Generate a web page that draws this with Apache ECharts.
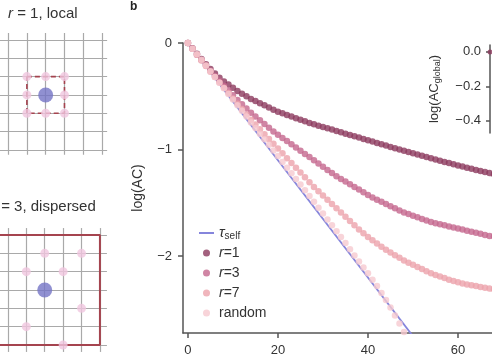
<!DOCTYPE html>
<html><head><meta charset="utf-8">
<script src="https://cdn.jsdelivr.net/npm/echarts@6/dist/echarts.min.js"></script>
<style>html,body{margin:0;padding:0;background:#fff}#c{width:492px;height:358px}</style>
</head><body><div id="c"></div>
<script>
// ---- main panel data (lag = array index) ----
const r1 = [0,-0.05,-0.10,-0.15,-0.20,-0.245,-0.285,-0.325,-0.36,-0.39,-0.42,-0.45,-0.475,-0.50,-0.525,-0.545,-0.565,-0.585,-0.605,-0.625,-0.645,-0.66,-0.675,-0.69,-0.705,-0.72,-0.735,-0.75,-0.762,-0.775,-0.787,-0.80,-0.812,-0.825,-0.837,-0.85,-0.862,-0.875,-0.887,-0.90,-0.912,-0.925,-0.937,-0.95,-0.962,-0.975,-0.987,-1.00,-1.01,-1.022,-1.034,-1.046,-1.058,-1.07,-1.08,-1.092,-1.104,-1.115,-1.126,-1.137,-1.148,-1.159,-1.17,-1.18,-1.19,-1.20,-1.21,-1.22,-1.23,-1.24,-1.25];
const r3 = [0,-0.055,-0.11,-0.16,-0.21,-0.26,-0.31,-0.355,-0.40,-0.445,-0.49,-0.535,-0.575,-0.615,-0.655,-0.69,-0.725,-0.76,-0.795,-0.83,-0.86,-0.89,-0.92,-0.95,-0.98,-1.01,-1.04,-1.07,-1.10,-1.13,-1.16,-1.19,-1.22,-1.25,-1.275,-1.30,-1.325,-1.35,-1.375,-1.40,-1.425,-1.45,-1.47,-1.49,-1.51,-1.53,-1.55,-1.57,-1.59,-1.605,-1.62,-1.635,-1.65,-1.665,-1.68,-1.69,-1.70,-1.71,-1.72,-1.73,-1.74,-1.75,-1.76,-1.77,-1.78,-1.79,-1.80,-1.81,-1.815,-1.82,-1.825];
const r7 = [0,-0.055,-0.11,-0.165,-0.215,-0.27,-0.32,-0.37,-0.42,-0.47,-0.52,-0.57,-0.62,-0.67,-0.72,-0.765,-0.81,-0.855,-0.90,-0.945,-0.99,-1.035,-1.08,-1.125,-1.17,-1.215,-1.26,-1.305,-1.35,-1.39,-1.43,-1.47,-1.51,-1.55,-1.59,-1.63,-1.67,-1.71,-1.75,-1.785,-1.82,-1.85,-1.88,-1.91,-1.94,-1.965,-1.99,-2.015,-2.04,-2.06,-2.08,-2.10,-2.12,-2.14,-2.16,-2.175,-2.19,-2.205,-2.22,-2.232,-2.245,-2.255,-2.265,-2.273,-2.28,-2.288,-2.295,-2.303,-2.31,-2.315,-2.32];
const randomAC = [0,-0.053,-0.105,-0.158,-0.21,-0.265,-0.32,-0.372,-0.425,-0.478,-0.53,-0.583,-0.635,-0.69,-0.745,-0.797,-0.85,-0.903,-0.955,-1.008,-1.06,-1.115,-1.17,-1.222,-1.275,-1.328,-1.38,-1.435,-1.49,-1.545,-1.60,-1.655,-1.71,-1.765,-1.82,-1.877,-1.935,-1.992,-2.05,-2.105,-2.16,-2.22,-2.28,-2.345,-2.41,-2.48,-2.555,-2.63,-2.71];
const tauSelf = [[0,0],[50,-2.75]];
const xTicks = [0,20,40,60];
const yTicks = [0,-1,-2];
// inset
const insetR1 = [0.0];
const insetTicks = [0,-0.2,-0.4];
// ---- left diagrams (lattice coordinates: column, row) ----
const gridCols = [0,1,2,3,4,5];
const gridRows = [0,1,2,3,4,5,6];
const localNeighbors = [[1,2],[2,2],[3,2],[1,3],[3,3],[1,4],[2,4],[3,4]];
const localCenter = [[2,3]];
const localBox = [[1,2],[3,2],[3,4],[1,4],[1,2]];
const dispNeighbors = [[2,1],[4,1],[1,2],[3,2],[4,4],[1,5],[3,6]];
const dispCenter = [[2,3]];
const dispBox = [[-1,0],[5,0],[5,6],[-1,6]];

const FONT = "'Liberation Sans', Arial, Helvetica, sans-serif";
const C = {r1:'#8c3a5e', r3:'#c4678d', r7:'#eca3ab', rnd:'#f6c9d0', tau:'#8585dc',
           pink:'#f0c6de', blue:'#7474c6', gray:'#a9a9a9', red:'#a5444f'};
const minus = '\u2212';

function latticeLines(vExt, hExt){
  const out = [];
  gridCols.forEach(c => out.push({coords:[[c,vExt[0]],[c,vExt[1]]]}));
  gridRows.forEach(r => out.push({coords:[[hExt[0],r],[hExt[1],r]]}));
  return out;
}
const hiddenAxis = (gi, min, max, inverse) => ({gridIndex: gi, type:'value', min, max, inverse: !!inverse, show:false});

const chart = echarts.init(document.getElementById('c'));
chart.setOption({
  animation:false,
  backgroundColor:'#fff',
  textStyle:{fontFamily:FONT},
  title:[
    {text:'{i|r} = 1, local', left:8, top:6, padding:0,
     textStyle:{fontSize:15, fontWeight:'normal', color:'#333', fontFamily:FONT,
       rich:{i:{fontStyle:'italic', fontSize:15, color:'#333', fontFamily:FONT}}}},
    {text:'{i|r} = 3, dispersed', left:-8, top:199, padding:0,
     textStyle:{fontSize:15, fontWeight:'normal', color:'#333', fontFamily:FONT,
       rich:{i:{fontStyle:'italic', fontSize:15, color:'#333', fontFamily:FONT}}}},
    {text:'b', left:130, top:1, padding:0,
     textStyle:{fontSize:12, fontWeight:'bold', color:'#222', fontFamily:FONT}}
  ],
  grid:[
    {left:183, top:43, width:365, height:290, outerBoundsMode:'none'},
    {left:0, top:33, width:107.7, height:122.4, outerBoundsMode:'none'},
    {left:0, top:227.7, width:107.3, height:124.6, outerBoundsMode:'none'},
    {left:490, top:45, width:240, height:88, outerBoundsMode:'none'}
  ],
  xAxis:[
    {gridIndex:0, type:'value', min:-1.1, max:80,
     axisLine:{onZero:false, lineStyle:{color:'#555', width:1.5}},
     axisTick:{customValues:xTicks, length:5, lineStyle:{color:'#555', width:1.5}},
     axisLabel:{customValues:xTicks, margin:11, fontSize:13, color:'#333', fontFamily:FONT},
     splitLine:{show:false}},
    hiddenAxis(1,-0.43,5.3),
    hiddenAxis(2,-0.43,5.4),
    {gridIndex:3, type:'value', min:0, max:60, show:false, axisLine:{onZero:false}}
  ],
  yAxis:[
    {gridIndex:0, type:'value', min:-2.72, max:0,
     name:'log(AC)', nameLocation:'middle', nameGap:38,
     nameTextStyle:{fontSize:14, color:'#333', fontFamily:FONT},
     axisLine:{onZero:false, lineStyle:{color:'#555', width:1.5}},
     axisTick:{customValues:yTicks, length:5, lineStyle:{color:'#555', width:1.5}},
     axisLabel:{customValues:yTicks, margin:11, fontSize:13, color:'#333', fontFamily:FONT,
       formatter:v => v===0 ? '0' : minus + Math.abs(v)},
     splitLine:{show:false}},
    hiddenAxis(1,-0.38,6.3,true),
    hiddenAxis(2,-0.4,6.4,true),
    {gridIndex:3, type:'value', min:-0.47, max:0.04,
     name:'{a|log(AC}{s|global}{a|)}', nameLocation:'middle', nameGap:48,
     nameTextStyle:{fontSize:13, color:'#333', fontFamily:FONT,
       rich:{a:{fontSize:13, color:'#333', fontFamily:FONT, lineHeight:16},
             s:{fontSize:9, color:'#333', fontFamily:FONT, verticalAlign:'bottom', lineHeight:10}}},
     axisLine:{onZero:false, lineStyle:{color:'#555', width:1.5}},
     axisTick:{customValues:insetTicks, length:4, lineStyle:{color:'#555', width:1.5}},
     axisLabel:{customValues:insetTicks, margin:9, fontSize:13, color:'#333', fontFamily:FONT,
       formatter:v => v===0 ? '0.0' : minus + Math.abs(v).toFixed(1)},
     splitLine:{show:false}}
  ],
  legend:{
    orient:'vertical', left:193, top:220, itemWidth:15, itemHeight:7, itemGap:4,
    padding:5,
    data:[{name:'tau', itemStyle:{opacity:0}},{name:'r1',icon:'circle'},{name:'r3',icon:'circle'},{name:'r7',icon:'circle'},{name:'random',icon:'circle'}],
    formatter: n => ({tau:'{t|τ}{s|self}', r1:'{i|r}{n|=1}', r3:'{i|r}{n|=3}', r7:'{i|r}{n|=7}', random:'{n|random}'})[n],
    textStyle:{fontSize:14, color:'#333', fontFamily:FONT, lineHeight:16,
      rich:{t:{fontSize:15, fontStyle:'italic', color:'#333', fontFamily:FONT, lineHeight:16},
            s:{fontSize:10, color:'#333', fontFamily:FONT, verticalAlign:'bottom', lineHeight:11},
            i:{fontSize:14, fontStyle:'italic', color:'#333', fontFamily:FONT, lineHeight:16},
            n:{fontSize:14, color:'#333', fontFamily:FONT, lineHeight:16}}}
  },
  series:[
    {name:'tau', type:'line', xAxisIndex:0, yAxisIndex:0, data:tauSelf, symbol:'none',
     lineStyle:{color:C.tau, width:1.8}, itemStyle:{color:C.tau}, z:2},
    {name:'r1', type:'scatter', xAxisIndex:0, yAxisIndex:0, data:r1.map((v,i)=>[i,v]),
     symbolSize:6.5, itemStyle:{color:C.r1}, z:3},
    {name:'r3', type:'scatter', xAxisIndex:0, yAxisIndex:0, data:r3.map((v,i)=>[i,v]),
     symbolSize:6.5, itemStyle:{color:C.r3}, z:3},
    {name:'r7', type:'scatter', xAxisIndex:0, yAxisIndex:0, data:r7.map((v,i)=>[i,v]),
     symbolSize:6.5, itemStyle:{color:C.r7}, z:3},
    {name:'random', type:'scatter', xAxisIndex:0, yAxisIndex:0, data:randomAC.map((v,i)=>[i,v]),
     symbolSize:6.5, itemStyle:{color:C.rnd}, z:3},
    {name:'insetR1', type:'scatter', xAxisIndex:3, yAxisIndex:3, data:insetR1.map((v,i)=>[i,v]),
     symbolSize:5, itemStyle:{color:C.r1}, clip:false, z:4},
    // top diagram
    {type:'lines', coordinateSystem:'cartesian2d', xAxisIndex:1, yAxisIndex:1,
     data:latticeLines([-0.38,6.27],[-0.43,5.27]), lineStyle:{color:C.gray, width:1.2, opacity:1}, z:1},
    {type:'line', xAxisIndex:1, yAxisIndex:1, data:localBox, symbol:'none',
     lineStyle:{color:C.red, width:1.6, type:[5,3]}, z:2},
    {type:'scatter', xAxisIndex:1, yAxisIndex:1, data:localNeighbors, symbolSize:9,
     itemStyle:{color:C.pink}, z:3},
    {type:'scatter', xAxisIndex:1, yAxisIndex:1, data:localCenter, symbolSize:15,
     itemStyle:{color:C.blue}, z:4},
    // bottom diagram
    {type:'lines', coordinateSystem:'cartesian2d', xAxisIndex:2, yAxisIndex:2,
     data:latticeLines([-0.38,6.38],[-0.43,5.38]), lineStyle:{color:C.gray, width:1.2, opacity:1}, z:1},
    {type:'line', xAxisIndex:2, yAxisIndex:2, data:dispBox, symbol:'none', clip:false,
     lineStyle:{color:C.red, width:2}, z:2},
    {type:'scatter', xAxisIndex:2, yAxisIndex:2, data:dispNeighbors, symbolSize:9,
     itemStyle:{color:C.pink}, z:3},
    {type:'scatter', xAxisIndex:2, yAxisIndex:2, data:dispCenter, symbolSize:15,
     itemStyle:{color:C.blue}, z:4}
  ]
});
</script></body></html>
